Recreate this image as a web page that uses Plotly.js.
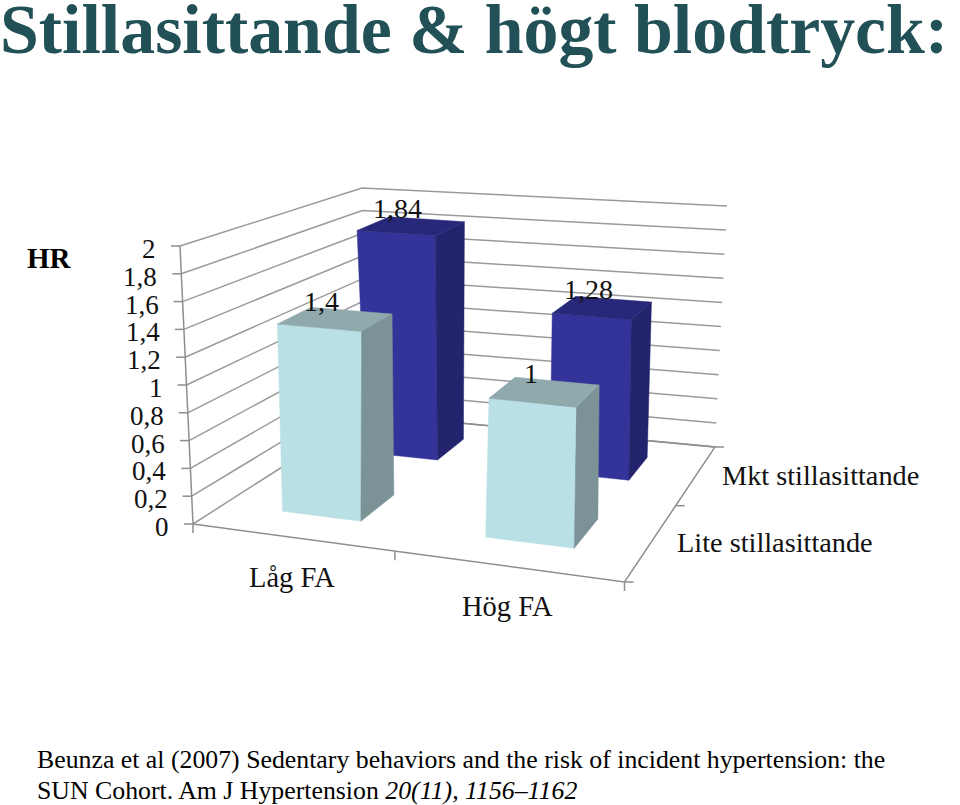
<!DOCTYPE html>
<html><head><meta charset="utf-8">
<script src="https://cdn.plot.ly/plotly-3.0.1.min.js"></script>
<style>html,body{margin:0;padding:0;background:#fff;overflow:hidden}</style>
</head><body><div id="chart" style="width:960px;height:805px"></div>
<script>
const categories = ["Låg FA", "Hög FA"];
const series = ["Lite stillasittande", "Mkt stillasittande"];
const liteValues = [1.4, 1];
const mktValues = [1.84, 1.28];
const valueLabels = [["1,4", "1"], ["1,84", "1,28"]];
const zTicks = [0, 0.2, 0.4, 0.6, 0.8, 1, 1.2, 1.4, 1.6, 1.8, 2];
const zTickLabels = ["0", "0,2", "0,4", "0,6", "0,8", "1", "1,2", "1,4", "1,6", "1,8", "2"];
const zMax = 2;

// Camera of the 3-D box: corners of the floor and ceiling on the page
const floorQuad = [[193,524],[624.5,582],[715,447],[365,414]];
const wallCeil  = [[180,246],[634,287],[727,206],[362,188]];
const barCeil   = [[184,248.5],[630,282],[725,207],[358,185]];
function solve(q){
  const [p0,p1,p2,p3]=q;
  const dx1=p1[0]-p2[0],dx2=p3[0]-p2[0],sx=p0[0]-p1[0]+p2[0]-p3[0];
  const dy1=p1[1]-p2[1],dy2=p3[1]-p2[1],sy=p0[1]-p1[1]+p2[1]-p3[1];
  const den=dx1*dy2-dx2*dy1;
  const g=(sx*dy2-dx2*sy)/den,h=(dx1*sy-sx*dy1)/den;
  return [p1[0]-p0[0]+g*p1[0],p3[0]-p0[0]+h*p3[0],p0[0],
          p1[1]-p0[1]+g*p1[1],p3[1]-p0[1]+h*p3[1],p0[1],g,h];
}
const F=solve(floorQuad),C=solve(wallCeil);
function ap(M,u,v){const w=M[6]*u+M[7]*v+1;return [(M[0]*u+M[1]*v+M[2])/w,(M[3]*u+M[4]*v+M[5])/w];}
function bil(q,u,v){return [0,1].map(i=>q[0][i]*(1-u)*(1-v)+q[1][i]*u*(1-v)+q[2][i]*u*v+q[3][i]*(1-u)*v);}
// x in category units (0..2), y in series units (0..2), z in axis units
function P(x,y,z){
  const a=ap(F,x/2,y/2),b=ap(C,x/2,y/2),t=z/zMax;
  return [a[0]+(b[0]-a[0])*t,a[1]+(b[1]-a[1])*t];
}
function B(x,y,z){
  const a=ap(F,(x+0.01)/2,y/2),b=bil(barCeil,x/2,y/2),t=z/zMax;
  return [a[0]+(b[0]-a[0])*t,a[1]+(b[1]-a[1])*t];
}
const traces=[];
function line(pts,w,color){
  traces.push({type:'scatter',mode:'lines',x:pts.map(p=>p?p[0]:null),y:pts.map(p=>p?p[1]:null),
    line:{color:color||'#8e8e8e',width:w||1.5},hoverinfo:'skip',showlegend:false,connectgaps:false});
}
// Walls
let grid=[];
zTicks.forEach(z=>{grid.push(P(0,0,z),P(0,2,z),P(2,2,z),null);});
line(grid,1.5,'#9a9a9a');
// Axes + tick marks
let ax=[P(0,0,0),P(0,0,zMax),null,P(0,0,0),P(2,0,0),P(2,2,0),P(0,2,0),null];
zTicks.forEach(z=>{const p=P(0,0,z);ax.push([p[0]-9,p[1]],p,null);});
[0,1,2].forEach(c=>{const p=P(c,0,0);ax.push(p,[p[0],p[1]+9],null);});
[0,1,2].forEach(s=>{const p=P(2,s,0);ax.push(p,[p[0]+9,p[1]],null);});
line(ax,1.5,'#8e8e8e');

function poly(pts,color,name,txt){
  traces.push({type:'scatter',mode:'lines',x:pts.map(p=>p[0]).concat(pts[0][0]),y:pts.map(p=>p[1]).concat(pts[0][1]),
    fill:'toself',fillcolor:color,line:{color:color,width:0.5},hoverinfo:'text',text:txt,name:name,showlegend:false});
}
const w=0.40,d=0.40;
const styles=[{front:'#B9E0E4',side:'#7B9296',top:'#8FA9AD'},{front:'#333399',side:'#24246E',top:'#28287A'}];
const rows=[liteValues,mktValues];
const ann=[];
[1,0].forEach(s=>{
  categories.forEach((cat,c)=>{
    const v=rows[s][c],st=styles[s];
    const x0=c+0.5-w/2,x1=c+0.5+w/2,y0=s+0.5-d/2,y1=s+0.5+d/2;
    const txt=cat+' / '+series[s]+': '+valueLabels[s][c];
    poly([B(x0,y0,0),B(x1,y0,0),B(x1,y0,v),B(x0,y0,v)],st.front,series[s],txt);
    poly([B(x1,y0,0),B(x1,y1,0),B(x1,y1,v),B(x1,y0,v)],st.side,series[s],txt);
    poly([B(x0,y0,v),B(x1,y0,v),B(x1,y1,v),B(x0,y1,v)],st.top,series[s],txt);
    const ctr=B(c+0.5,s+0.5,v);
    ann.push({x:ctr[0],y:ctr[1],xshift:-14,yshift:18,text:valueLabels[s][c],showarrow:false,font:{size:28}});
  });
});
// Axis texts
zTicks.forEach((z,i)=>{const p=P(0,0,z);
  ann.push({x:p[0]-22,y:p[1]+3,xanchor:'right',text:zTickLabels[i],showarrow:false,font:{size:27}});});
categories.forEach((c,i)=>{const p=P(i+0.5,0,0);
  ann.push({x:p[0],y:p[1],xshift:1.5,yshift:-40.5,text:c,showarrow:false,font:{size:28.5}});});
series.forEach((s,i)=>{const p=P(2,i+0.5,0);
  ann.push({x:p[0],y:p[1],xanchor:'left',xshift:23,yshift:-1,text:s,showarrow:false,font:{size:28.3}});});
ann.push({x:25,y:258,xanchor:'left',text:'<b>HR</b>',showarrow:false,font:{size:29,color:'#000'}});
ann.push({x:35,y:759,xanchor:'left',showarrow:false,font:{size:25.8,color:'#000'},
  text:'Beunza et al (2007) Sedentary behaviors and the risk of incident hypertension: the'});
ann.push({x:35,y:790,xanchor:'left',showarrow:false,font:{size:25.8,color:'#000'},
  text:'SUN Cohort. Am J Hypertension <i>20(11), 1156–1162</i>'});

Plotly.newPlot('chart',traces,{
  width:960,height:805,margin:{l:0,r:0,t:0,b:0},paper_bgcolor:'#fff',plot_bgcolor:'#fff',showlegend:false,
  font:{family:'"Liberation Serif",serif',size:28,color:'#111'},
  title:{text:'<b>Stillasittande & högt blodtryck:</b>',x:0,xanchor:'left',xref:'paper',y:0.964,yref:'container',yanchor:'middle',
    font:{family:'"Liberation Serif",serif',size:69.8,color:'#215057'}},
  xaxis:{range:[0,960],visible:false,fixedrange:true},
  yaxis:{range:[805,0],visible:false,fixedrange:true},
  annotations:ann
},{displayModeBar:false});
</script></body></html>
